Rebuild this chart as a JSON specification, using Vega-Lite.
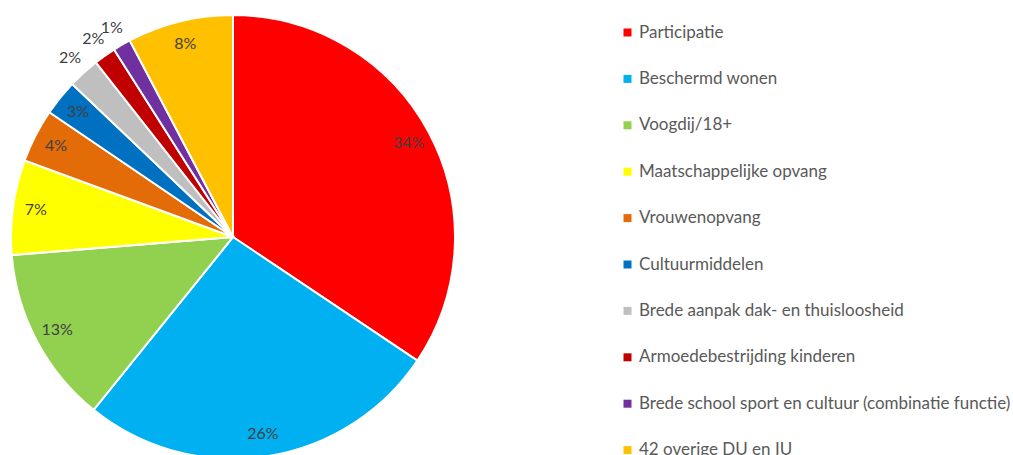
{
  "$schema": "https://vega.github.io/schema/vega-lite/v6.json",
  "width": 466,
  "height": 474,
  "padding": 0,
  "autosize": {"type": "pad"},
  "background": "white",
  "config": {"view": {"stroke": null}},
  "data": {
    "values": [
      {"i": 1, "category": "Participatie", "share": 0.344},
      {"i": 2, "category": "Beschermd wonen", "share": 0.264},
      {"i": 3, "category": "Voogdij/18+", "share": 0.129},
      {"i": 4, "category": "Maatschappelijke opvang", "share": 0.069},
      {"i": 5, "category": "Vrouwenopvang", "share": 0.039},
      {"i": 6, "category": "Cultuurmiddelen", "share": 0.026},
      {"i": 7, "category": "Brede aanpak dak- en thuisloosheid", "share": 0.023},
      {"i": 8, "category": "Armoedebestrijding kinderen", "share": 0.016},
      {"i": 9, "category": "Brede school sport en cultuur (combinatie functie)", "share": 0.013},
      {"i": 10, "category": "42 overige DU en IU", "share": 0.077}
    ]
  },
  "encoding": {
    "theta": {"field": "share", "type": "quantitative", "stack": true},
    "order": {"field": "i", "type": "quantitative"}
  },
  "layer": [
    {
      "mark": {"type": "arc", "radius": 222, "stroke": "white", "strokeWidth": 2},
      "encoding": {
        "color": {
          "field": "category",
          "type": "nominal",
          "sort": null,
          "scale": {
            "domain": ["Participatie", "Beschermd wonen", "Voogdij/18+", "Maatschappelijke opvang", "Vrouwenopvang", "Cultuurmiddelen", "Brede aanpak dak- en thuisloosheid", "Armoedebestrijding kinderen", "Brede school sport en cultuur (combinatie functie)", "42 overige DU en IU"],
            "range": ["#FF0000", "#00B0F0", "#92D050", "#FFFF00", "#E36C09", "#0070C0", "#BFBFBF", "#C00000", "#7030A0", "#FFC000"]
          },
          "legend": {
            "title": null,
            "orient": "none",
            "legendX": 619,
            "legendY": 24,
            "symbolType": "square",
            "symbolSize": 64,
            "symbolStrokeWidth": 0,
            "labelFont": "Lato",
            "labelFontSize": 17,
            "labelColor": "#595959",
            "labelLimit": 500,
            "labelOffset": 3,
            "rowPadding": 28.4,
            "symbolOffset": 0
          }
        }
      }
    },
    {
      "mark": {"type": "text", "radius": 199, "font": "Lato", "fontSize": 16, "color": "#404040", "clip": true},
      "encoding": {
        "text": {
          "condition": {"test": "datum.share >= 0.025", "field": "share", "type": "quantitative", "format": ".0%"},
          "value": ""
        }
      }
    },
    {
      "mark": {"type": "text", "radius": 242, "font": "Lato", "fontSize": 16, "color": "#404040", "clip": true},
      "encoding": {
        "text": {
          "condition": {"test": "datum.share < 0.025", "field": "share", "type": "quantitative", "format": ".0%"},
          "value": ""
        }
      }
    }
  ]
}
